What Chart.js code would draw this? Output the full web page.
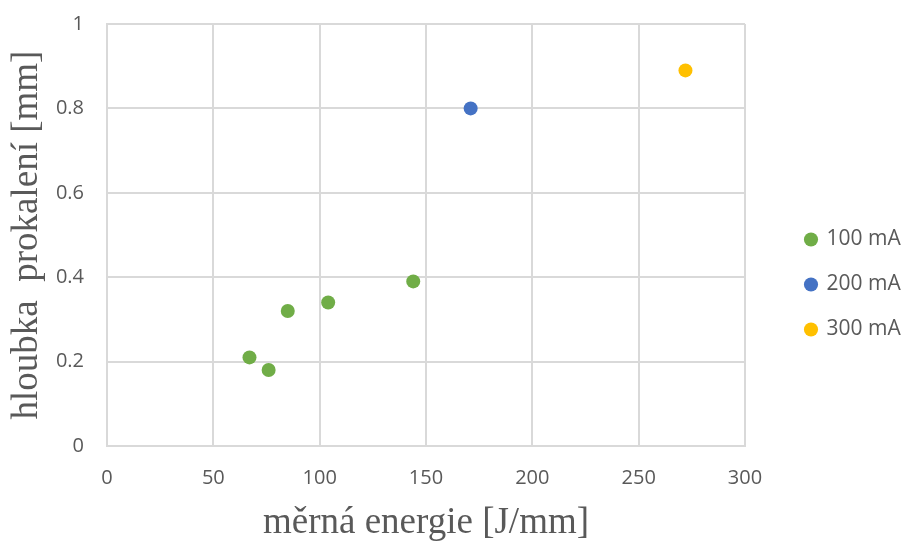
<!DOCTYPE html>
<html>
<head>
<meta charset="utf-8">
<script src="https://cdn.jsdelivr.net/npm/chart.js@4/dist/chart.umd.min.js"></script>
<style>
  html, body { margin: 0; padding: 0; background: #ffffff; }
  canvas { display: block; }
</style>
</head>
<body>
<canvas id="c" width="908" height="543"></canvas>
<script>
// Specific energy [J/mm] vs. hardening depth [mm], grouped by beam current
const seriesNames = ['100 mA', '200 mA', '300 mA'];
const energy100 = [67, 76, 85, 104, 144];
const depth100  = [0.21, 0.18, 0.32, 0.34, 0.39];
const energy200 = [171];
const depth200  = [0.80];
const energy300 = [272];
const depth300  = [0.89];
const seriesColors = ['#70AD47', '#4472C4', '#FFC000'];

const xTitle = 'měrná energie [J/mm]';
const yTitle = 'hloubka  prokalení [mm]';

function pairs(xs, ys) {
  return xs.map((x, i) => ({ x: x, y: ys[i] }));
}

const gridColor = '#D9D9D9';
const textColor = '#595959';

// Places the legend column to the right of the plot area
const legendPlacer = {
  id: 'legendPlacer',
  beforeDraw(chart) {
    const lg = chart.legend;
    if (!lg) return;
    const w = lg.width, h = lg.height;
    lg.left = 782;
    lg.top = 205;
    lg.right = lg.left + w;
    lg.bottom = lg.top + h;
  }
};

// Keeps tick-label overhang from shrinking the plot area
function noOverhang(scale) {
  scale.paddingTop = 0;
  scale.paddingBottom = 0;
  scale.paddingLeft = 0;
  scale.paddingRight = 0;
}

new Chart(document.getElementById('c'), {
  type: 'scatter',
  data: {
    datasets: [
      { label: seriesNames[0], data: pairs(energy100, depth100) },
      { label: seriesNames[1], data: pairs(energy200, depth200) },
      { label: seriesNames[2], data: pairs(energy300, depth300) }
    ].map((d, i) => Object.assign(d, {
      backgroundColor: seriesColors[i],
      borderColor: seriesColors[i],
      borderWidth: 0,
      pointRadius: 7,
      pointHoverRadius: 7,
      pointStyle: 'circle'
    }))
  },
  options: {
    responsive: false,
    animation: false,
    layout: { padding: { left: 0, top: 24, right: 163, bottom: 0 } },
    plugins: {
      legend: {
        position: 'chartArea',
        align: 'start',
        labels: {
          usePointStyle: true,
          boxWidth: 10,
          boxHeight: 10,
          padding: 24,
          color: textColor,
          font: { family: 'Open Sans', size: 21 }
        }
      },
      tooltip: { enabled: false }
    },
    scales: {
      x: {
        type: 'linear',
        min: 0, max: 300,
        afterFit(scale) { scale.height = 97; noOverhang(scale); },
        ticks: {
          stepSize: 50,
          padding: 20,
          color: textColor,
          font: { family: 'Open Sans', size: 20 }
        },
        grid: { color: gridColor, lineWidth: 2, drawTicks: false },
        border: { color: gridColor, width: 2 },
        title: {
          display: true,
          text: xTitle,
          color: textColor,
          font: { family: 'Liberation Serif', size: 37 },
          padding: { top: 0, bottom: -2 }
        }
      },
      y: {
        type: 'linear',
        min: 0, max: 1,
        afterFit(scale) { scale.width = 107; noOverhang(scale); },
        ticks: {
          stepSize: 0.2,
          padding: 23,
          color: textColor,
          font: { family: 'Open Sans', size: 20 },
          callback: (v) => String(Number(v.toFixed(1)))
        },
        grid: { color: gridColor, lineWidth: 2, drawTicks: false },
        border: { color: gridColor, width: 2 },
        title: {
          display: true,
          text: yTitle,
          color: textColor,
          font: { family: 'Liberation Serif', size: 37 },
          padding: { top: 5, bottom: 0 }
        }
      }
    }
  },
  plugins: [legendPlacer]
});
</script>
</body>
</html>
